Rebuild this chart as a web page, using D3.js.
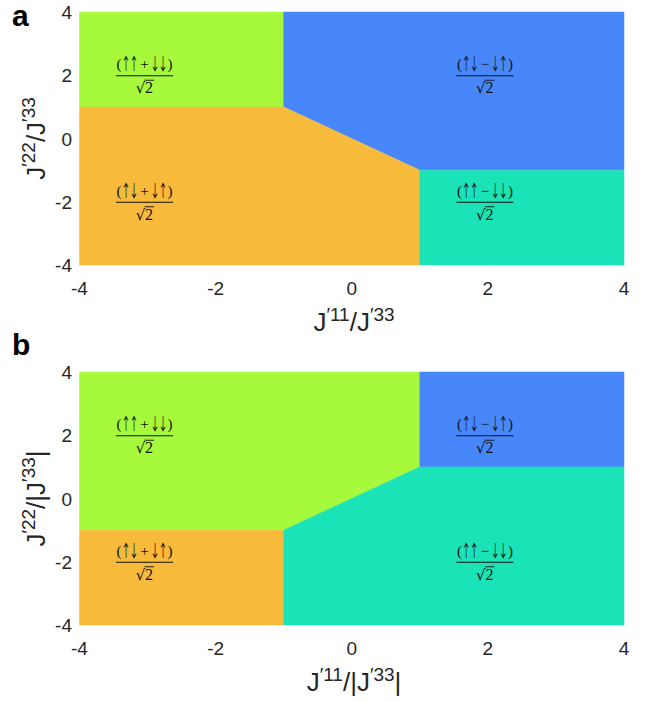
<!DOCTYPE html>
<html><head><meta charset="utf-8">
<script src="https://cdn.jsdelivr.net/npm/d3@7"></script>
<style>body{margin:0;background:#fff}svg{display:block}</style>
</head><body>
<script>
// Data
const xTicks = [-4, -2, 0, 2, 4];
const yTicks = [-4, -2, 0, 2, 4];
const stateLabels = {
  TTpDD: "(↑↑+↓↓)",
  TDmDT: "(↑↓−↓↑)",
  TDpDT: "(↑↓+↓↑)",
  TTmDD: "(↑↑−↓↓)"
};
const colors = {TTpDD: "#a7f93c", TDmDT: "#4787fa", TDpDT: "#f8ba3a", TTmDD: "#1be3b8"};
// Panel a phase regions (polygon vertices in data units)
const regionsA = [
  {state: "TTpDD", pts: [[-4,1],[-1,1],[-1,4],[-4,4]], label: [-3, 2]},
  {state: "TDmDT", pts: [[-1,4],[4,4],[4,-1],[1,-1],[-1,1]], label: [2, 2]},
  {state: "TDpDT", pts: [[-4,-4],[1,-4],[1,-1],[-1,1],[-4,1]], label: [-3, -2]},
  {state: "TTmDD", pts: [[1,-4],[4,-4],[4,-1],[1,-1]], label: [2, -2]}
];
// Panel b phase regions
const regionsB = [
  {state: "TTpDD", pts: [[-4,4],[1,4],[1,1],[-1,-1],[-4,-1]], label: [-3, 2]},
  {state: "TDmDT", pts: [[1,4],[4,4],[4,1],[1,1]], label: [2, 2]},
  {state: "TDpDT", pts: [[-4,-4],[-1,-4],[-1,-1],[-4,-1]], label: [-3, -2]},
  {state: "TTmDD", pts: [[-1,-4],[4,-4],[4,1],[1,1],[-1,-1]], label: [2, -2]}
];

const W = 660, H = 702;
const svg = d3.select("body").append("svg").attr("width", W).attr("height", H);
const SANS = "Liberation Sans, Arial, Helvetica, sans-serif";
const SERIF = "Liberation Serif, DejaVu Serif, serif";
const ARROWF = "Noto Sans CJK JP, Noto Sans CJK SC, DejaVu Sans, sans-serif";

function drawNumerator(lg, str) {
  const chars = Array.from(str);
  const widths = chars.map(c => (c === "(" || c === ")") ? 5 : (c === "↑" || c === "↓") ? 7 : 12);
  const gap = 1;
  const total = d3.sum(widths) + gap * (chars.length - 1);
  let pos = -total / 2;
  chars.forEach((c, i) => {
    const cxc = pos + widths[i] / 2;
    const arrow = c === "↑" || c === "↓";
    const t = lg.append("text").attr("text-anchor", "middle").attr("fill", "#111");
    if (arrow) {
      t.attr("transform", `translate(${cxc},-5) scale(0.56,1)`)
        .attr("font-family", ARROWF).attr("font-size", 17).text(c);
    } else {
      t.attr("transform", `translate(${cxc},-6)`)
        .attr("font-family", SERIF).attr("font-size", 15).text(c);
    }
    pos += widths[i] + gap;
  });
}

function panel(top, regions, letter, letterY, xlab, ylab) {
  const x = d3.scaleLinear().domain([-4, 4]).range([79.5, 624]);
  const y = d3.scaleLinear().domain([-4, 4]).range([top + 253, top]);
  const g = svg.append("g");
  const line = d3.line().x(d => x(d[0])).y(d => y(d[1]));
  g.selectAll("path.reg").data(regions).join("path")
    .attr("d", d => line(d.pts) + "Z")
    .attr("fill", d => colors[d.state])
    .attr("stroke", d => colors[d.state]).attr("stroke-width", 0.5);
  // labels
  regions.forEach(r => {
    const cx = x(r.label[0]) - 3, cy = y(r.label[1]);
    const lg = g.append("g").attr("transform", `translate(${cx},${cy})`);
    drawNumerator(lg, stateLabels[r.state]);
    lg.append("line").attr("x1", -28.5).attr("x2", 28.5).attr("y1", 0.5).attr("y2", 0.5)
      .attr("stroke", "#111").attr("stroke-width", 1);
    lg.append("text").attr("x", -4).attr("y", 18).attr("text-anchor", "middle")
      .attr("font-family", "DejaVu Serif, serif").attr("font-size", 15)
      .attr("fill", "#111").text("√");
    lg.append("text").attr("x", 4.5).attr("y", 18).attr("text-anchor", "middle")
      .attr("font-family", SERIF).attr("font-size", 16)
      .attr("fill", "#111").text("2");
    lg.append("line").attr("x1", 0).attr("x2", 9.5).attr("y1", 5).attr("y2", 5)
      .attr("stroke", "#111").attr("stroke-width", 0.9);
  });
  // axes tick labels
  g.selectAll("text.xt").data(xTicks).join("text")
    .attr("x", d => x(d)).attr("y", top + 253 + 30).attr("text-anchor", "middle")
    .attr("font-family", SANS).attr("font-size", 19)
    .attr("fill", "#262626").text(d => d < 0 ? "-" + Math.abs(d) : d);
  g.selectAll("text.yt").data(yTicks).join("text")
    .attr("x", 72).attr("y", d => y(d) + 7).attr("text-anchor", "end")
    .attr("font-family", SANS).attr("font-size", 19)
    .attr("fill", "#262626").text(d => d < 0 ? "-" + Math.abs(d) : d);
  // x label
  const xl = g.append("text").attr("x", 354).attr("y", top + 253 + 66).attr("text-anchor", "middle")
    .attr("font-family", SANS).attr("font-size", 26).attr("fill", "#262626");
  xlab.forEach(p => xl.append("tspan").attr("dy", p.dy || 0)
    .attr("font-size", p.sup ? 19 : 26).text(p.t));
  const yl = g.append("text").attr("transform", `translate(45,${y(0)}) rotate(-90)`).attr("text-anchor", "middle")
    .attr("font-family", SANS).attr("font-size", 26).attr("fill", "#262626");
  ylab.forEach(p => yl.append("tspan").attr("dy", p.dy || 0)
    .attr("font-size", p.sup ? 19 : 26).text(p.t));
  svg.append("text").attr("x", 12).attr("y", letterY).attr("font-family", SANS)
    .attr("font-weight", "bold").attr("font-size", 30).attr("fill", "#000").text(letter);
}

const lab = (num, den, abs) => abs
  ? [{t:"J"},{t:"′"+num,sup:true,dy:-10},{t:"/|J",dy:10},{t:"′"+den,sup:true,dy:-10},{t:"|",dy:10}]
  : [{t:"J"},{t:"′"+num,sup:true,dy:-10},{t:"/J",dy:10},{t:"′"+den,sup:true,dy:-10}];

panel(12, regionsA, "a", 26, lab("11","33",false), lab("22","33",false));
panel(372, regionsB, "b", 355, lab("11","33",true), lab("22","33",true));
</script>
</body></html>
